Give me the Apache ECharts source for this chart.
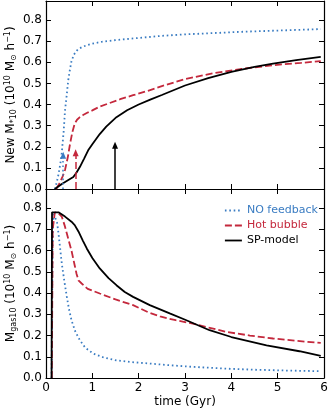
<!DOCTYPE html>
<html>
<head>
<meta charset="utf-8">
<script src="https://cdn.jsdelivr.net/npm/echarts@6/dist/echarts.min.js"></script>
<style>
html,body{margin:0;padding:0;background:#fff;}
#c{width:331px;height:410px;}
</style>
</head>
<body>
<div id="c"></div>
<script>
// ---- data ----
var seriesNames = ['NO feedback', 'Hot bubble', 'SP-model'];
var xTicks = [0, 1, 2, 3, 4, 5, 6];

// top panel: New M*10
var topNoFbT = [0.19, 0.23, 0.27, 0.31, 0.34, 0.38, 0.41, 0.45, 0.48, 0.52, 0.55, 0.6, 0.65, 0.7, 0.8, 0.9, 1.0, 1.2, 1.5, 1.9, 2.5, 3.0, 3.6, 4.2, 5.0, 5.93];
var topNoFbV = [0.0, 0.03, 0.07, 0.12, 0.17, 0.27, 0.37, 0.45, 0.515, 0.57, 0.605, 0.635, 0.652, 0.663, 0.674, 0.682, 0.688, 0.697, 0.705, 0.713, 0.725, 0.732, 0.738, 0.744, 0.75, 0.757];
var topHotT = [0.22, 0.3, 0.36, 0.41, 0.47, 0.52, 0.57, 0.62, 0.67, 0.73, 0.8, 0.9, 1.0, 1.16, 1.35, 1.6, 1.88, 2.2, 2.5, 3.0, 3.6, 4.2, 4.9, 5.5, 5.93];
var topHotV = [0.0, 0.03, 0.06, 0.09, 0.15, 0.215, 0.27, 0.31, 0.328, 0.34, 0.35, 0.362, 0.372, 0.39, 0.405, 0.425, 0.444, 0.465, 0.487, 0.52, 0.548, 0.568, 0.586, 0.597, 0.605];
var topSpT = [0.19, 0.35, 0.5, 0.59, 0.66, 0.73, 0.82, 0.91, 1.0, 1.16, 1.3, 1.52, 1.75, 2.0, 2.25, 2.5, 3.0, 3.5, 4.0, 4.5, 4.9, 5.4, 5.93];
var topSpV = [0.0, 0.025, 0.045, 0.057, 0.078, 0.104, 0.143, 0.183, 0.212, 0.26, 0.295, 0.34, 0.373, 0.40, 0.423, 0.445, 0.49, 0.525, 0.555, 0.578, 0.594, 0.61, 0.625];

// arrows in top panel (time, tip value) for each model
var arrowT = [0.37, 0.64, 1.49];
var arrowTip = [0.16, 0.172, 0.207];

// bottom panel: M_gas10
var botNoFbT = [0.12, 0.14, 0.16, 0.2, 0.24, 0.27, 0.3, 0.34, 0.4, 0.45, 0.5, 0.55, 0.63, 0.73, 0.85, 1.02, 1.25, 1.52, 1.9, 2.24, 2.67, 3.2, 3.89, 4.5, 5.2, 5.93];
var botNoFbV = [0.0, 0.6, 0.78, 0.775, 0.73, 0.68, 0.62, 0.54, 0.45, 0.382, 0.32, 0.272, 0.22, 0.178, 0.142, 0.115, 0.096, 0.083, 0.074, 0.068, 0.06, 0.052, 0.044, 0.039, 0.035, 0.032];
var botHotT = [0.125, 0.145, 0.19, 0.27, 0.34, 0.4, 0.45, 0.55, 0.62, 0.66, 0.7, 0.77, 0.9, 1.16, 1.5, 1.88, 2.2, 2.46, 2.8, 3.17, 3.5, 3.89, 4.4, 4.9, 5.4, 5.93];
var botHotV = [0.0, 0.7, 0.78, 0.775, 0.76, 0.72, 0.68, 0.60, 0.53, 0.49, 0.46, 0.445, 0.42, 0.398, 0.37, 0.343, 0.31, 0.29, 0.272, 0.256, 0.238, 0.217, 0.2, 0.186, 0.175, 0.165];
var botSpT = [0.12, 0.13, 0.16, 0.27, 0.41, 0.55, 0.62, 0.7, 0.8, 0.88, 1.0, 1.16, 1.35, 1.52, 1.7, 1.88, 2.24, 2.67, 3.03, 3.53, 4.0, 4.76, 5.47, 5.93];
var botSpV = [0.0, 0.78, 0.785, 0.78, 0.76, 0.736, 0.72, 0.69, 0.645, 0.61, 0.565, 0.516, 0.47, 0.437, 0.405, 0.382, 0.343, 0.304, 0.272, 0.225, 0.193, 0.154, 0.126, 0.104];

// ---- styles ----
var colors = ['#3a7cc2', '#c4283c', '#000000'];
var dashes = [[1.6, 2.8], [7, 3], 'solid'];
var FONT = 'DejaVu Sans';

function pairs(t, v) { return t.map(function (x, i) { return [x, v[i]]; }); }

function xAx(grid, pos, labels) {
  return {
    type: 'value', gridIndex: grid, position: pos, min: 0, max: 6, interval: 1,
    axisLine: { show: true, onZero: false, lineStyle: { color: '#000', width: 1.2 } },
    axisTick: { show: true, inside: true, length: 5, lineStyle: { color: '#000', width: 1 } },
    axisLabel: { show: labels, color: '#000', fontSize: 12, fontFamily: FONT, margin: 4 },
    splitLine: { show: false },
    name: labels ? 'time (Gyr)' : '', nameLocation: 'middle', nameGap: 18,
    nameMoveOverlap: false,
    nameTextStyle: { color: '#000', fontSize: 12, fontFamily: FONT }
  };
}
function yAx(grid, pos, labels, name) {
  return {
    type: 'value', gridIndex: grid, position: pos, min: 0, max: 0.89, interval: 0.1,
    axisLine: { show: true, onZero: false, lineStyle: { color: '#000', width: 1.2 } },
    axisTick: { show: true, inside: true, length: 5, lineStyle: { color: '#000', width: 1 } },
    axisLabel: {
      show: labels, color: '#000', fontSize: 12, fontFamily: FONT, margin: 4,
      formatter: function (v) {
        var k = Math.round(v * 10);
        return Math.abs(v * 10 - k) < 1e-6 ? (k / 10).toFixed(1) : '';
      }
    },
    splitLine: { show: false },
    name: name || '', nameLocation: 'middle', nameGap: 28,
    nameMoveOverlap: false,
    nameTextStyle: {
      color: '#000', fontSize: 12, fontFamily: FONT,
      rich: {
        n: { fontSize: 12, fontFamily: FONT, color: '#000', lineHeight: 14 },
        sub: { fontSize: 8, fontFamily: FONT, color: '#000', verticalAlign: 'bottom', lineHeight: 9, padding: [5, 0, 0, 0] },
        sup: { fontSize: 8, fontFamily: FONT, color: '#000', verticalAlign: 'top', lineHeight: 9, padding: [0, 0, 4, 0] }
      }
    }
  };
}

var topName = '{n|New M}{sub|*10}{n| (10}{sup|10}{n| M}{sub|⊙}{n| h}{sup|−1}{n|)}';
var botName = '{n|M}{sub|gas10}{n| (10}{sup|10}{n| M}{sub|⊙}{n| h}{sup|−1}{n|)}';

var topData = [pairs(topNoFbT, topNoFbV), pairs(topHotT, topHotV), pairs(topSpT, topSpV)];
var botData = [pairs(botNoFbT, botNoFbV), pairs(botHotT, botHotV), pairs(botSpT, botSpV)];

var series = [];
for (var i = 0; i < 3; i++) {
  series.push({
    name: seriesNames[i], type: 'line', xAxisIndex: 0, yAxisIndex: 0,
    data: topData[i], symbol: 'none', showSymbol: false, z: i + 2,
    lineStyle: { color: colors[i], width: 1.8, type: dashes[i] },
    itemStyle: { color: colors[i] },
    markLine: {
      silent: true, symbol: ['none', 'triangle'], symbolSize: [6, 7], animation: false,
      label: { show: false },
      lineStyle: { color: colors[i], width: 1.5, type: dashes[i] },
      data: [[{ coord: [arrowT[i], 0] }, { coord: [arrowT[i], arrowTip[i]] }]]
    }
  });
}
for (var j = 0; j < 3; j++) {
  series.push({
    name: seriesNames[j], type: 'line', xAxisIndex: 2, yAxisIndex: 2,
    data: botData[j], symbol: 'none', showSymbol: false, z: j + 2,
    lineStyle: { color: colors[j], width: 1.8, type: dashes[j] },
    itemStyle: { color: colors[j] }
  });
}

var chart = echarts.init(document.getElementById('c'), null, { renderer: 'canvas' });
chart.setOption({
  animation: false,
  backgroundColor: '#fff',
  grid: [
    { left: 46, right: 7, top: 1, height: 188, containLabel: false, outerBoundsMode: 'none' },
    { left: 46, right: 7, top: 189, height: 189, containLabel: false, outerBoundsMode: 'none' }
  ],
  xAxis: [xAx(0, 'bottom', false), xAx(0, 'top', false), xAx(1, 'bottom', true), xAx(1, 'top', false)],
  yAxis: [yAx(0, 'left', true, topName), yAx(0, 'right', false), yAx(1, 'left', true, botName), yAx(1, 'right', false)],
  legend: {
    orient: 'vertical', left: 219, top: 200, itemWidth: 17, itemHeight: 10, itemGap: 4,
    textStyle: { fontSize: 11, fontFamily: FONT },
    itemStyle: { opacity: 0 },
    data: seriesNames.map(function (n, k) {
      return {
        name: n, textStyle: { color: colors[k] },
        lineStyle: { type: dashes[k], width: 1.8, color: colors[k] }
      };
    })
  },
  series: series
});
</script>
</body>
</html>
